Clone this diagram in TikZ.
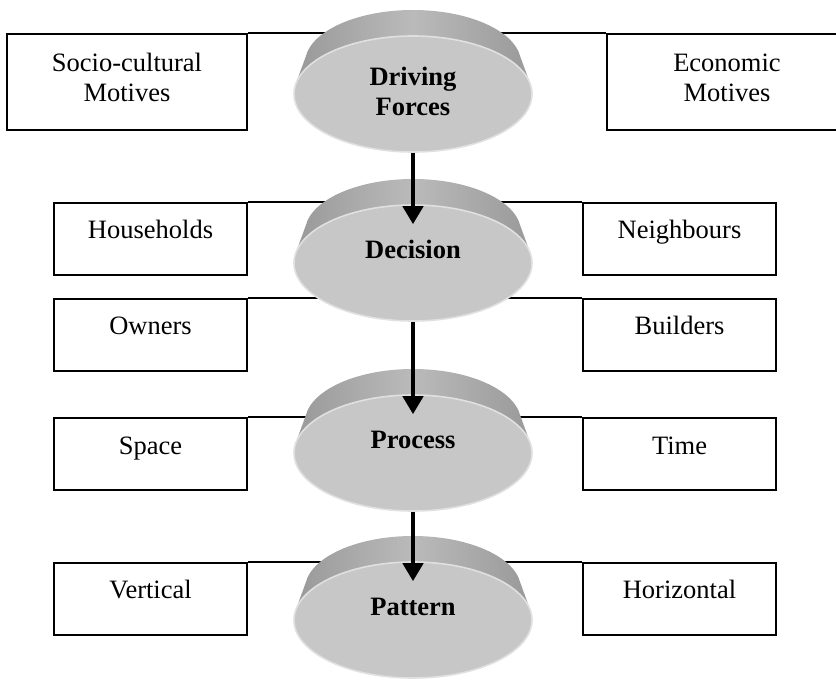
\documentclass[tikz,border=0pt]{standalone}
\usepackage{fontspec}
\setmainfont{Liberation Serif}
\usetikzlibrary{
    shapes.geometric,
    arrows.meta,
    backgrounds
}

\definecolor{bandedge}{gray}{0.6}
\definecolor{bandmid}{gray}{0.73}
\definecolor{diskface}{gray}{0.78}
\definecolor{diskrim}{gray}{0.88}

\newcommand{\diagfont}{\fontsize{13.25}{15}\selectfont}

\tikzset{
    box/.style={draw, line width=1pt, inner sep=0pt, minimum width=96.5pt,
        minimum height=36pt, text height=18pt, text depth=18pt},
    widebox/.style={box, align=center, minimum width=120pt, minimum height=48pt,
        text height=33.5pt, text depth=14.5pt},
    disk/.style={ellipse, fill=diskface, draw=diskrim, line width=0.8pt, inner sep=0pt,
        minimum width=119pt, minimum height=58pt, font=\diagfont\bfseries,
        text height=8pt, text depth=13pt},
    band/.style={left color=bandedge, right color=bandedge, middle color=bandmid},
    flow/.style={-{Triangle[length=9pt,width=10pt]}, line width=2.2pt, shorten >=-10pt},
    tie/.style={line width=1pt}
}

\begin{document}
\begin{tikzpicture}[x=0.5pt, y=-0.5pt, font=\diagfont]
    \useasboundingbox (0,0) rectangle (836,681);

    % stages
    \node[disk, align=center, text height=25pt, text depth=4pt] (drive) at (413,94) {Driving\\Forces};
    \node[disk] (decide) at (413,263) {Decision};
    \node[disk] (process) at (413,453) {Process};
    \node[disk] (pattern) at (413,620) {Pattern};

    % factors
    \node[widebox] (socio) at (127,82) {Socio-cultural\\Motives};
    \node[widebox] (econ) at (727,82) {Economic\\Motives};
    \node[box] (house) at (150.5,238.5) {Households};
    \node[box] (neigh) at (679.5,238.5) {Neighbours};
    \node[box] (owner) at (150.5,334.5) {Owners};
    \node[box] (build) at (679.5,334.5) {Builders};
    \node[box] (space) at (150.5,454) {Space};
    \node[box] (time) at (679.5,454) {Time};
    \node[box] (vert) at (150.5,598.5) {Vertical};
    \node[box] (horiz) at (679.5,598.5) {Horizontal};

    \begin{pgfonlayer}{background}
        \draw[tie]
        (socio.north east) -- (socio.north east -| drive.center)
        (econ.north west) -- (econ.north west -| drive.center)
        (house.north east) -- (house.north east -| decide.center)
        (neigh.north west) -- (neigh.north west -| decide.center)
        (owner.north east) -- (owner.north east -| decide.center)
        (build.north west) -- (build.north west -| decide.center)
        (space.north east) -- (space.north east -| process.center)
        (time.north west) -- (time.north west -| process.center)
        (vert.north east) -- (vert.north east -| pattern.center)
        (horiz.north west) -- (horiz.north west -| pattern.center);

        % rims behind the faces
        \foreach \s in {drive,decide,process,pattern}
            \shade[band, shift={(\s.center)}]
                \foreach \t in {0,0.1,...,1} {(0,{-31*(1-\t)}) ellipse ({108+11*\t} and {53+5*\t})};
    \end{pgfonlayer}

    \draw[flow] (drive) -- (decide);
    \draw[flow] (decide) -- (process);
    \draw[flow] (process) -- (pattern);
\end{tikzpicture}
\end{document}
